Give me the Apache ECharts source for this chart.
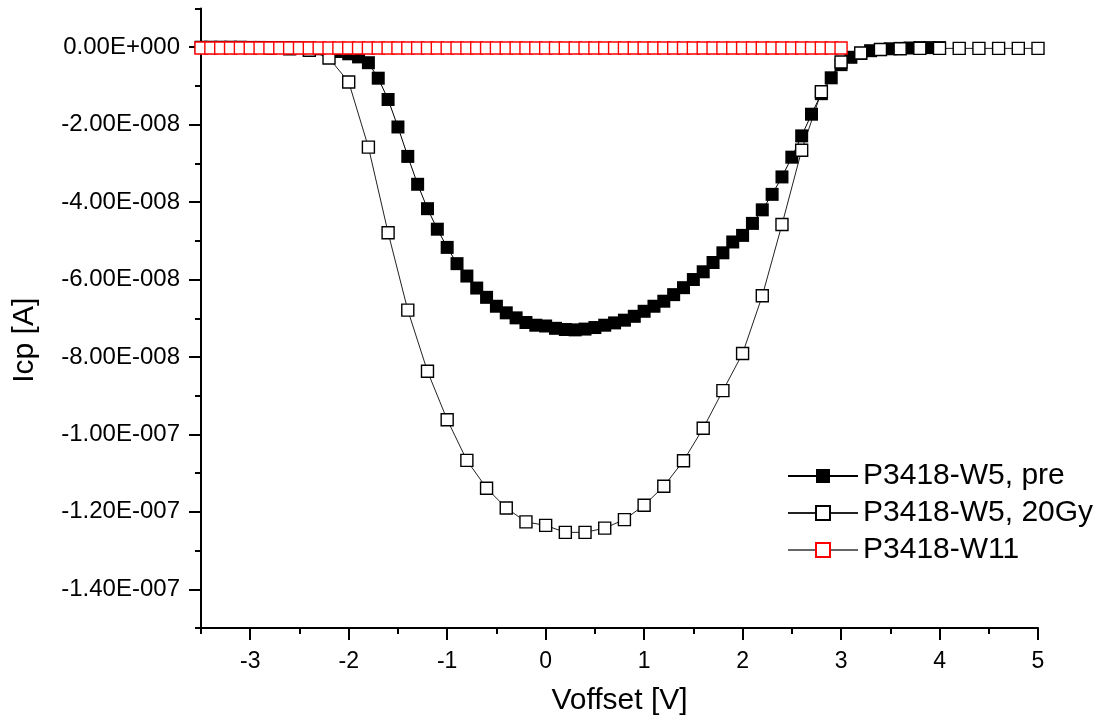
<!DOCTYPE html>
<html>
<head>
<meta charset="utf-8">
<script src="https://cdn.jsdelivr.net/npm/echarts@6/dist/echarts.min.js"></script>
<style>
html,body{margin:0;padding:0;background:#fff;}
#chart{width:1103px;height:723px;}
</style>
</head>
<body>
<div id="chart"></div>
<script>
// ---- data (current values in nA, i.e. 1e-9 A) ----
const UNIT = 1e-9;
const seriesNames = ['P3418-W5, pre', 'P3418-W5, 20Gy', 'P3418-W11'];

const xPre = [-3.5,-3.4,-3.3,-3.2,-3.1,-3.0,-2.9,-2.8,-2.7,-2.6,-2.5,-2.4,-2.3,-2.2,-2.1,-2.0,
  -1.9,-1.8,-1.7,-1.6,-1.5,-1.4,-1.3,-1.2,-1.1,-1.0,-0.9,-0.8,-0.7,-0.6,-0.5,-0.4,-0.3,-0.2,-0.1,
  0.0,0.1,0.2,0.3,0.4,0.5,0.6,0.7,0.8,0.9,1.0,1.1,1.2,1.3,1.4,1.5,1.6,1.7,1.8,1.9,
  2.0,2.1,2.2,2.3,2.4,2.5,2.6,2.7,2.8,2.9,3.0,3.1,3.2,3.3,3.4,3.5,3.6,3.7,3.8,3.9,4.0];
const yPre = [0,0,0,0,0,-0.05,-0.05,-0.1,-0.1,-0.1,-0.15,-0.2,-0.4,-0.7,-1.1,-1.7,
  -2.5,-4.0,-8.0,-13.5,-20.6,-28.2,-35.4,-41.7,-47.0,-51.7,-55.9,-59.1,-62.2,-64.6,-66.9,-68.6,-69.9,-71.1,-71.8,
  -72.0,-72.6,-72.9,-73.0,-72.8,-72.4,-71.8,-71.2,-70.5,-69.5,-68.2,-66.9,-65.6,-63.9,-62.1,-60.0,-58.0,-55.6,-53.1,-50.3,
  -48.6,-45.5,-42.0,-38.0,-33.5,-28.4,-22.9,-17.3,-12.0,-7.9,-4.5,-2.6,-1.6,-0.9,-0.6,-0.4,-0.3,-0.2,-0.1,-0.1,-0.1];

const x20Gy = [-3.4,-3.2,-3.0,-2.8,-2.6,-2.4,-2.2,-2.0,-1.8,-1.6,-1.4,-1.2,-1.0,-0.8,-0.6,-0.4,-0.2,
  0.0,0.2,0.4,0.6,0.8,1.0,1.2,1.4,1.6,1.8,2.0,2.2,2.4,2.6,2.8,3.0,3.2,3.4,3.6,3.8,4.0,4.2,4.4,4.6,4.8,5.0];
const y20Gy = [-0.1,-0.1,-0.1,-0.2,-0.4,-0.8,-2.8,-9.0,-25.8,-47.9,-67.9,-83.7,-96.2,-106.7,-113.9,-119.0,-122.6,
  -123.5,-125.3,-125.3,-124.2,-122.0,-118.3,-113.4,-106.8,-98.4,-88.7,-79.1,-64.2,-45.8,-26.6,-11.5,-3.8,-1.5,-0.6,-0.4,
  -0.3,-0.3,-0.3,-0.3,-0.3,-0.3,-0.3];

const xW11 = [-3.5,-3.4,-3.3,-3.2,-3.1,-3.0,-2.9,-2.8,-2.7,-2.6,-2.5,-2.4,-2.3,-2.2,-2.1,-2.0,
  -1.9,-1.8,-1.7,-1.6,-1.5,-1.4,-1.3,-1.2,-1.1,-1.0,-0.9,-0.8,-0.7,-0.6,-0.5,-0.4,-0.3,-0.2,-0.1,
  0.0,0.1,0.2,0.3,0.4,0.5,0.6,0.7,0.8,0.9,1.0,1.1,1.2,1.3,1.4,1.5,1.6,1.7,1.8,1.9,
  2.0,2.1,2.2,2.3,2.4,2.5,2.6,2.7,2.8,2.9,3.0];
const yW11 = [-0.2,-0.2,-0.2,-0.2,-0.2,-0.2,-0.2,-0.2,-0.2,-0.2,-0.2,-0.2,-0.2,-0.2,-0.2,-0.2,
  -0.2,-0.2,-0.2,-0.2,-0.2,-0.2,-0.2,-0.2,-0.2,-0.2,-0.2,-0.2,-0.2,-0.2,-0.2,-0.2,-0.2,-0.2,-0.2,
  -0.2,-0.2,-0.2,-0.2,-0.2,-0.2,-0.2,-0.2,-0.2,-0.2,-0.2,-0.2,-0.2,-0.2,-0.2,-0.2,-0.2,-0.2,-0.2,-0.2,
  -0.2,-0.2,-0.2,-0.2,-0.2,-0.2,-0.2,-0.2,-0.2,-0.2,-0.2];

// ---- ticks ----
const xMajorTicks = [-3,-2,-1,0,1,2,3,4,5];
const xMinorTicks = [-3.5,-2.5,-1.5,-0.5,0.5,1.5,2.5,3.5,4.5];
const yMajorTicks = [0,-2e-8,-4e-8,-6e-8,-8e-8,-1e-7,-1.2e-7,-1.4e-7];
const yMajorLabels = ['0.00E+000','-2.00E-008','-4.00E-008','-6.00E-008','-8.00E-008','-1.00E-007','-1.20E-007','-1.40E-007'];
const yMinorTicks = [1e-8,-1e-8,-3e-8,-5e-8,-7e-8,-9e-8,-1.1e-7,-1.3e-7,-1.5e-7];
const xRange = [-3.5, 5];
const yRange = [-1.5e-7, 1e-8];

const FONT = 'Liberation Sans, Arial, sans-serif';

function pairs(xs, ys) { return xs.map((x, i) => [x, ys[i] * UNIT]); }
function yLabel(v) {
  let best = 0, bd = Infinity;
  yMajorTicks.forEach((t, i) => { const d = Math.abs(t - v); if (d < bd) { bd = d; best = i; } });
  return yMajorLabels[best];
}

const tickStyle = { color: '#000', width: 2 };

const chart = echarts.init(document.getElementById('chart'), null, { renderer: 'canvas' });
chart.setOption({
  backgroundColor: '#fff',
  animation: false,
  grid: { left: 201, right: 65, top: 8.5, bottom: 95, containLabel: false },
  xAxis: [{
    type: 'value', min: xRange[0], max: xRange[1], position: 'bottom',
    name: 'Voffset [V]', nameLocation: 'middle', nameGap: 58,
    nameTextStyle: { fontFamily: FONT, fontSize: 30, color: '#000' },
    axisLine: { show: true, onZero: false, lineStyle: { color: '#000', width: 2 } },
    axisTick: { show: true, inside: false, length: 12, lineStyle: tickStyle, customValues: xMajorTicks },
    axisLabel: { show: true, margin: 22, fontFamily: FONT, fontSize: 23, color: '#000', customValues: xMajorTicks },
    splitLine: { show: false }
  }, {
    type: 'value', min: xRange[0], max: xRange[1], position: 'bottom', gridIndex: 0,
    axisLine: { show: false, onZero: false },
    axisTick: { show: true, inside: false, length: 6, lineStyle: tickStyle, customValues: xMinorTicks },
    axisLabel: { show: false },
    splitLine: { show: false }
  }],
  yAxis: [{
    type: 'value', min: yRange[0], max: yRange[1], position: 'left',
    name: 'Icp [A]', nameLocation: 'middle', nameGap: 161, nameRotate: 90,
    nameTextStyle: { fontFamily: FONT, fontSize: 30, color: '#000', padding: [0, 44, 0, 0] },
    axisLine: { show: true, onZero: false, lineStyle: { color: '#000', width: 2 } },
    axisTick: { show: true, inside: false, length: 12, lineStyle: tickStyle, customValues: yMajorTicks },
    axisLabel: { show: true, margin: 21, fontFamily: FONT, fontSize: 24, color: '#000', customValues: yMajorTicks, formatter: yLabel },
    splitLine: { show: false }
  }, {
    type: 'value', min: yRange[0], max: yRange[1], position: 'left', gridIndex: 0,
    axisLine: { show: false, onZero: false },
    axisTick: { show: true, inside: false, length: 6, lineStyle: tickStyle, customValues: yMinorTicks },
    axisLabel: { show: false },
    splitLine: { show: false }
  }],
  legend: {
    show: true, orient: 'vertical', left: 787, top: 461, padding: 0,
    itemWidth: 70, itemHeight: 17.5, itemGap: 7,
    textStyle: { fontFamily: FONT, fontSize: 30, color: '#000', lineHeight: 30 },
    data: seriesNames
  },
  series: [{
    name: seriesNames[0], type: 'line', data: pairs(xPre, yPre),
    symbol: 'rect', symbolSize: 13, showAllSymbol: true,
    lineStyle: { color: '#000', width: 1 },
    itemStyle: { color: '#000', borderColor: '#000', borderWidth: 0 }
  }, {
    name: seriesNames[1], type: 'line', data: pairs(x20Gy, y20Gy),
    symbol: 'rect', symbolSize: 12, showAllSymbol: true,
    lineStyle: { color: '#222', width: 1 },
    itemStyle: { color: '#fff', borderColor: '#000', borderWidth: 1.4 }
  }, {
    name: seriesNames[2], type: 'line', data: pairs(xW11, yW11),
    symbol: 'rect', symbolSize: 12, showAllSymbol: true,
    lineStyle: { color: '#666', width: 1 },
    itemStyle: { color: '#fff', borderColor: '#ff0000', borderWidth: 1.4 }
  }]
});
</script>
</body>
</html>
